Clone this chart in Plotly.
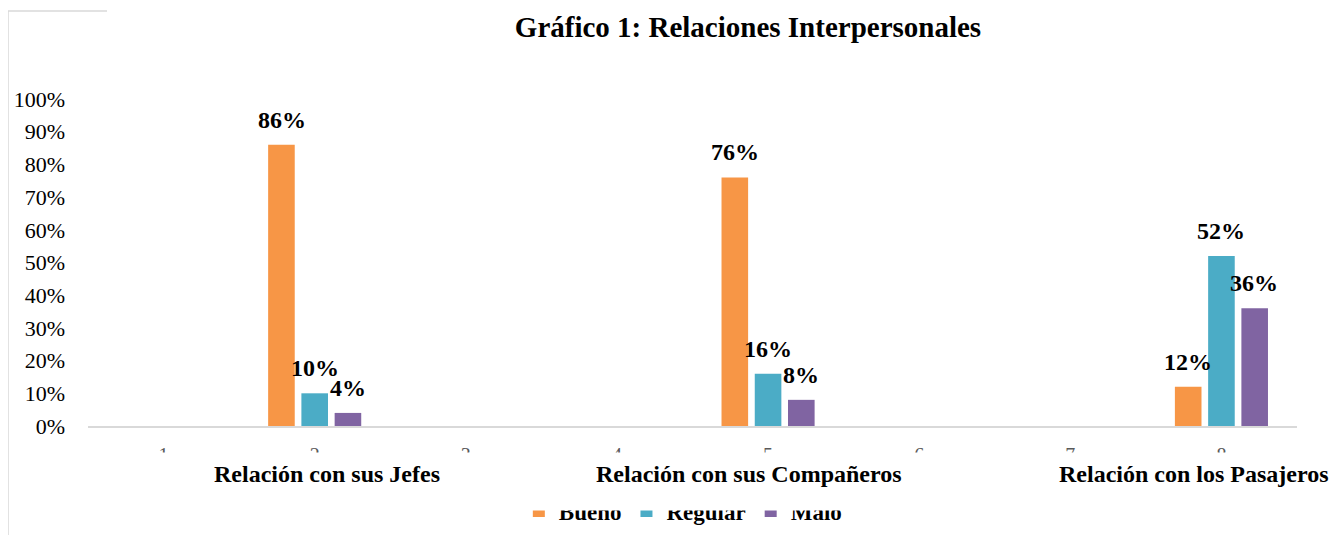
import plotly.graph_objects as go

# data
positions = [2, 5, 8]
category_labels = ["Relación con sus Jefes", "Relación con sus Compañeros", "Relación con los Pasajeros"]
series_names = ["Bueno", "Regular", "Malo"]
bueno = [86, 76, 12]
regular = [10, 16, 52]
malo = [4, 8, 36]
y_ticks = list(range(0, 101, 10))

colors = ["#F79646", "#4BACC6", "#8064A2"]
serif = "Liberation Serif, Times New Roman, serif"

fig = go.Figure()
for name, vals, col in zip(series_names, [bueno, regular, malo], colors):
    fig.add_trace(go.Bar(x=positions, y=vals, name=name, marker_color=col,
                         marker_line_width=0))

annotations = []
# white band hiding the lower half of the axis numbers and top of legend (as in the source)
annotations.append(dict(xref="paper", yref="paper", x=-0.063, y=-0.0795,
                        xanchor="left", yanchor="top", text=" ", showarrow=False,
                        width=1330, height=57, bgcolor="white", borderpad=0))

# data labels
shifts = [-33, 0, 33]
for vals, dx in zip([bueno, regular, malo], shifts):
    for p, v in zip(positions, vals):
        annotations.append(dict(x=p, y=v, text=f"<b>{v}%</b>", showarrow=False,
                                xshift=dx, yshift=10, yanchor="bottom", xanchor="center",
                                font=dict(family=serif, size=24, color="black")))

# category labels under the axis
label_x = [0.1977, 0.547, 0.9148]
for lx, txt in zip(label_x, category_labels):
    annotations.append(dict(xref="paper", yref="paper", x=lx, y=-0.147,
                            xanchor="center", yanchor="middle", text=f"<b>{txt}</b>",
                            showarrow=False,
                            font=dict(family=serif, size=24, color="black")))

frame_x = (8 - 88) / 1209
frame_top = (426 - 11) / 327
shapes = [
    dict(type="line", xref="paper", yref="paper", x0=frame_x, x1=frame_x,
         y0=frame_top, y1=(426 - 540) / 327, line=dict(color="#D9D9D9", width=1.5)),
    dict(type="line", xref="paper", yref="paper", x0=frame_x, x1=(107 - 88) / 1209,
         y0=frame_top, y1=frame_top, line=dict(color="#D9D9D9", width=1.5)),
]

# page body has an 8px margin, so the figure is drawn 8px smaller and shifted
fig.update_layout(
    width=1336, height=527,
    margin=dict(l=80, r=47, t=91, b=109, autoexpand=False),
    paper_bgcolor="white", plot_bgcolor="white",
    barmode="group", bargap=0.78, bargroupgap=0.2,
    title=dict(text="<b>Gráfico 1: Relaciones Interpersonales</b>", xref="container",
               x=740 / 1336, xanchor="center", yref="container", y=1 - 19 / 527,
               yanchor="middle", font=dict(family=serif, size=29, color="black")),
    font=dict(family=serif, color="black"),
    legend=dict(orientation="h", xref="paper", yref="paper", x=0.492, xanchor="center",
                y=(426 - 511) / 327, yanchor="middle",
                font=dict(family=serif, size=23, color="black", weight="bold"),
                bgcolor="rgba(0,0,0,0)"),
    annotations=annotations,
    shapes=shapes,
    showlegend=True,
)
fig.update_xaxes(range=[0.5, 8.5], tickmode="linear", tick0=1, dtick=1,
                 showline=True, linecolor="#D9D9D9", linewidth=1.5,
                 showgrid=False, zeroline=False, ticks="",
                 ticklabelstandoff=10,
                 tickfont=dict(family=serif, size=20, color="#595959"))
fig.update_yaxes(range=[0, 100], tickmode="array", tickvals=y_ticks,
                 ticktext=[f"{t}%" for t in y_ticks],
                 showgrid=False, zeroline=False, showline=False, ticks="",
                 ticklabelstandoff=22,
                 tickfont=dict(family=serif, size=22, color="black"))

fig.write_html("out.html")
